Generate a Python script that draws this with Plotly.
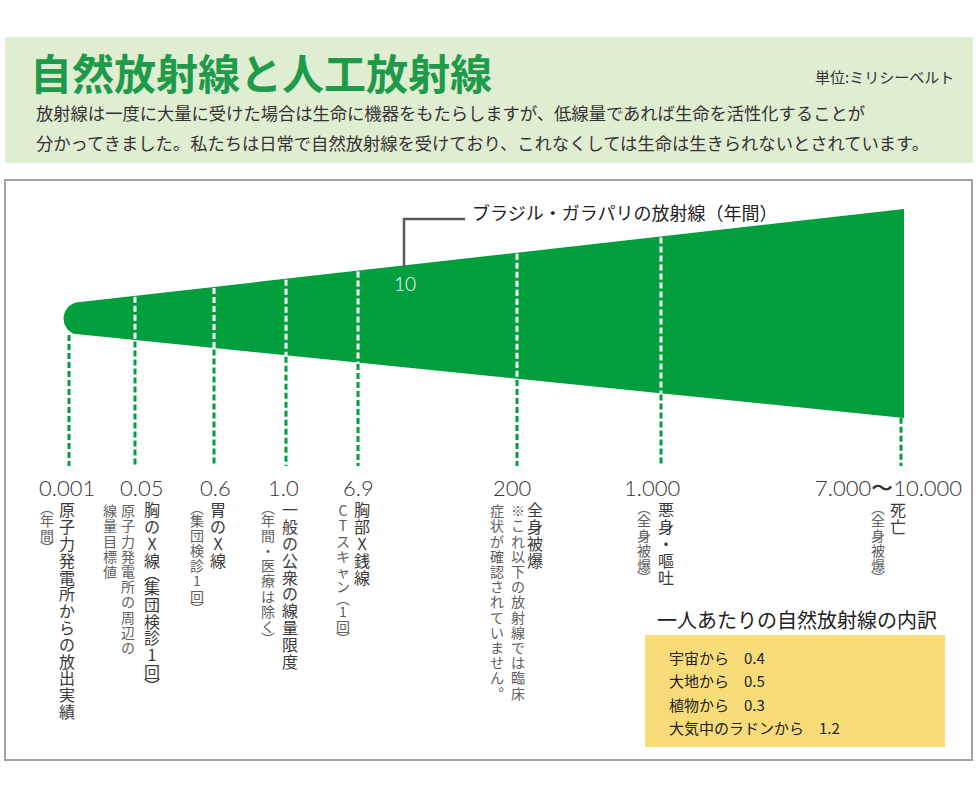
import math
import plotly.graph_objects as go

# ---------------- data ----------------
dose_labels = ["0.001", "0.05", "0.6", "1.0", "6.9", "200", "1.000", "7.000〜10.000"]
main_notes = ["原子力発電所からの放出実績", "胸のX線（集団検診1回）", "胃のX線", "一般の公衆の線量限度",
              "胸部X銭線", "全身被爆", "悪身・嘔吐", "死亡"]
sub_notes = [["（年間）"], ["原子力発電所の周辺の", "線量目標値"], ["（集団検診1回）"], ["（年間・医療は除く）"],
             ["CTスキャン（1回）"], ["※これ以下の放射線では臨床", "症状が確認されていません。"],
             ["（全身被爆）"], ["（全身被爆）"]]
marker_value = "10"
marker_label = "ブラジル・ガラパリの放射線（年間）"
natural_sources = ["宇宙から", "大地から", "植物から", "大気中のラドンから"]
natural_values = ["0.4", "0.5", "0.3", "1.2"]

title = "自然放射線と人工放射線"
unit = "単位:ミリシーベルト"
intro = ["放射線は一度に大量に受けた場合は生命に機器をもたらしますが、低線量であれば生命を活性化することが",
         "分かってきました。私たちは日常で自然放射線を受けており、これなくしては生命は生きられないとされています。"]
breakdown_title = "一人あたりの自然放射線の内訳"

# ---------------- layout (positions / styles) ----------------
W, H = 980, 795
slot_x = [69, 135, 214, 286, 358, 517, 661, 901]
label_x = [67, 141, 215, 283, 358, 512, 652, 888]
main_col_x = [67, 152, 218, 290, 362, 535, 666, 898]
sub_col_x = [[47], [128, 110], [197], [268], [343], [518, 497], [644], [878]]
marker_x = 404

GREEN = "#009e3d"
TITLE_GREEN = "#1d9a4a"
FONT = "Noto Sans CJK JP"

# funnel geometry
fx0, fx1 = 80, 904
top0, top1 = 302, 209
bot0, bot1 = 335, 418


def ytop(x):
    return top0 + (x - fx0) * (top1 - top0) / (fx1 - fx0)


def ybot(x):
    return bot0 + (x - fx0) * (bot1 - bot0) / (fx1 - fx0)


fig = go.Figure()

# funnel polygon with rounded left cap
cx, cy, r = fx0, (top0 + bot0) / 2, (bot0 - top0) / 2
px = [fx0, fx1, fx1, fx0]
py = [top0, top1, bot1, bot0]
for i in range(1, 40):
    a = math.pi / 2 + math.pi * i / 40
    px.append(cx + r * math.cos(a))
    py.append(cy + r * math.sin(a))
fig.add_trace(go.Scatter(x=px, y=py, fill="toself", fillcolor=GREEN, mode="lines",
                         line=dict(width=0, color=GREEN), hoverinfo="skip", showlegend=False))

# dashed guide lines
for i, x in enumerate(slot_x):
    inside = fx0 < x < fx1 - 5
    if inside:
        fig.add_trace(go.Scatter(x=[x, x], y=[ytop(x) + 1, ybot(x)], mode="lines",
                                 line=dict(color="white", width=3, dash="6px,3px"),
                                 hoverinfo="skip", showlegend=False))
    y0 = ybot(min(max(x, fx0), fx1)) + (1 if inside else 0)
    fig.add_trace(go.Scatter(x=[x, x], y=[y0, 466], mode="lines",
                             line=dict(color=GREEN, width=3, dash="6px,3px"),
                             hoverinfo="skip", showlegend=False))

# marker callout line
fig.add_trace(go.Scatter(x=[marker_x, marker_x, 465], y=[ytop(marker_x) + 1, 219, 219], mode="lines",
                         line=dict(color="#5a5a5a", width=2.5), hoverinfo="skip", showlegend=False))

# vertical text
VMAP = {"（": "︵", "）": "︶", "。": "︒", "、": "︑"}


def vertical(text, x, y_start, pitch):
    xs, ys, ts = [], [], []
    y = y_start
    for ch in text:
        c = VMAP.get(ch, ch)
        adv = pitch * (0.62 if ch in "（）" else 1.0)
        xs.append(x)
        ys.append(y + adv / 2)
        ts.append(c)
        y += adv
    return xs, ys, ts


mx, my, mt = [], [], []
sx, sy, st = [], [], []
for i in range(len(dose_labels)):
    a, b, c = vertical(main_notes[i], main_col_x[i], 504, 16.8)
    mx += a; my += b; mt += c
    for txt, xc in zip(sub_notes[i], sub_col_x[i]):
        a, b, c = vertical(txt, xc, 505, 15.2)
        sx += a; sy += b; st += c

fig.add_trace(go.Scatter(x=mx, y=my, text=mt, mode="text", textposition="middle center",
                         textfont=dict(family=FONT, size=16, color="#3a3a3a"),
                         hoverinfo="skip", showlegend=False))
fig.add_trace(go.Scatter(x=sx, y=sy, text=st, mode="text", textposition="middle center",
                         textfont=dict(family=FONT, size=14, color="#606060"),
                         hoverinfo="skip", showlegend=False))

annotations = []
# dose numbers
for i, lab in enumerate(dose_labels):
    annotations.append(dict(x=label_x[i], y=487, text=lab, showarrow=False, xanchor="center", yanchor="middle",
                            font=dict(family="Lato", size=22, color="#333333", weight=300)))
# marker texts
annotations.append(dict(x=marker_x + 1, y=283, text=marker_value, showarrow=False,
                        font=dict(family="Lato", size=19, color="white", weight=300)))
annotations.append(dict(x=470, y=212, text=marker_label, showarrow=False, xanchor="left",
                        font=dict(family=FONT, size=18, color="#222222")))
# header
annotations.append(dict(x=28, y=71, text="<b>" + title + "</b>", showarrow=False, xanchor="left",
                        font=dict(family=FONT, size=42, color=TITLE_GREEN)))
annotations.append(dict(x=956, y=76, text=unit, showarrow=False, xanchor="right",
                        font=dict(family=FONT, size=15, color="#333333")))
for j, line in enumerate(intro):
    annotations.append(dict(x=34, y=112 + j * 30, text=line, showarrow=False, xanchor="left",
                            font=dict(family=FONT, size=17.3, color="#333333")))
# breakdown box
annotations.append(dict(x=797, y=619, text=breakdown_title, showarrow=False,
                        font=dict(family=FONT, size=20, color="#222222")))
for j, (s, v) in enumerate(zip(natural_sources, natural_values)):
    annotations.append(dict(x=667, y=657 + j * 23.5, text=s + "　" + v, showarrow=False, xanchor="left",
                            font=dict(family=FONT, size=15, color="#222222")))

shapes = [
    dict(type="rect", x0=5, x1=973, y0=37, y1=163, fillcolor="#dfedd1", line=dict(width=0), layer="below"),
    dict(type="rect", x0=5, x1=972, y0=180, y1=760, fillcolor="rgba(0,0,0,0)",
         line=dict(color="#a3a3a3", width=2), layer="below"),
    dict(type="rect", x0=645, x1=945, y0=635, y1=747, fillcolor="#f9dc7a", line=dict(width=0), layer="below"),
]

fig.update_layout(
    width=W, height=H, margin=dict(l=0, r=0, t=0, b=0),
    paper_bgcolor="white", plot_bgcolor="white",
    xaxis=dict(range=[0, W], visible=False, fixedrange=True),
    yaxis=dict(range=[H, 0], visible=False, fixedrange=True),
    annotations=annotations, shapes=shapes, showlegend=False,
)

fig.write_html("out.html")
